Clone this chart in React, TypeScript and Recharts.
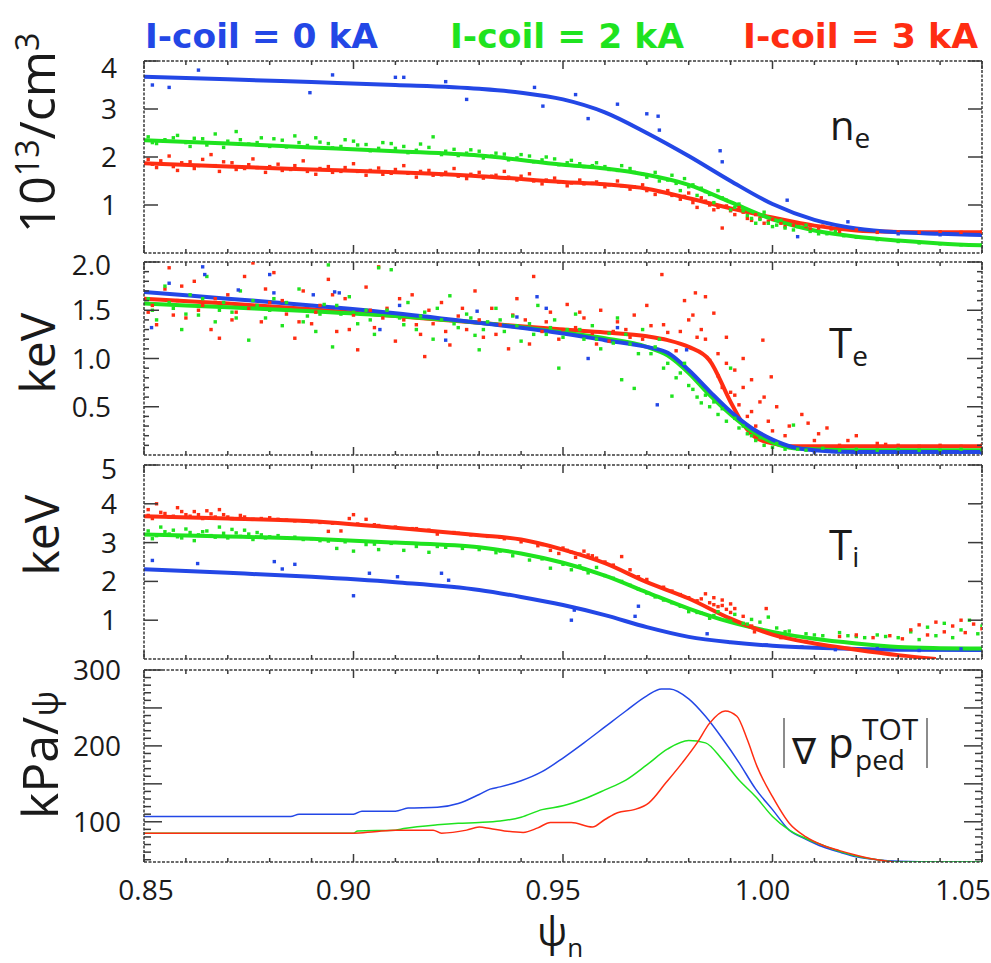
import React from 'react';
import { ComposedChart, Line, Scatter, XAxis, YAxis } from 'recharts';

const BLUE = '#2347e6';
const GREEN = '#1fe31f';
const RED = '#ff2d12';
const FRAME = '#3a3a3a';
const TXT = '#1a1a1a';
const SANS = '"Open Sans", "DejaVu Sans", sans-serif';

// x axis (psi_n)
const xTicks = [0.85, 0.86, 0.87, 0.88, 0.89, 0.9, 0.91, 0.92, 0.93, 0.94, 0.95, 0.96, 0.97, 0.98, 0.99, 1.0, 1.01, 1.02, 1.03, 1.04, 1.05];
const xLabelTicks = [0.85, 0.9, 0.95, 1.0, 1.05];

// y ticks per panel
const neTicks = [1, 2, 3, 4];
const teTicks = [0.1, 0.2, 0.3, 0.4, 0.5, 0.6, 0.7, 0.8, 0.9, 1.0, 1.1, 1.2, 1.3, 1.4, 1.5, 1.6, 1.7, 1.8, 1.9, 2.0];
const teMajor = [0.5, 1.0, 1.5, 2.0];
const tiTicks = [1, 2, 3, 4, 5];
const gradTicks = [50, 60, 70, 80, 90, 100, 110, 120, 130, 140, 150, 160, 170, 180, 190, 200, 210, 220, 230, 240, 250, 260, 270, 280, 290, 300];
const gradMajor = [100, 150, 200, 250, 300];
const gradLabels = [100, 200, 300];

// ---- n_e fits [psi, 1e13/cm3]
const neBlueFit = [[0.85, 3.67], [0.87, 3.62], [0.89, 3.56], [0.91, 3.5], [0.93, 3.42], [0.94, 3.34], [0.95, 3.2], [0.96, 2.93], [0.97, 2.5], [0.98, 2.02], [0.99, 1.5], [1.0, 1.02], [1.01, 0.69], [1.02, 0.51], [1.03, 0.43], [1.04, 0.4], [1.05, 0.375]];
const neGreenFit = [[0.85, 2.35], [0.87, 2.28], [0.89, 2.2], [0.91, 2.12], [0.93, 2.03], [0.95, 1.84], [0.96, 1.76], [0.97, 1.63], [0.98, 1.42], [0.99, 1.06], [1.0, 0.7], [1.01, 0.47], [1.02, 0.34], [1.03, 0.26], [1.04, 0.2], [1.05, 0.16]];
const neRedFit = [[0.85, 1.87], [0.87, 1.8], [0.89, 1.74], [0.91, 1.68], [0.93, 1.6], [0.95, 1.48], [0.96, 1.43], [0.97, 1.34], [0.98, 1.14], [0.99, 0.93], [1.0, 0.74], [1.01, 0.57], [1.02, 0.47], [1.03, 0.44], [1.04, 0.43], [1.05, 0.43]];

const neBluePts = [[0.852, 3.5], [0.856, 3.45], [0.863, 3.81], [0.8896, 3.34], [0.895, 3.71], [0.91, 3.66], [0.912, 3.66], [0.922, 3.57], [0.927, 3.2], [0.9432, 3.45], [0.9452, 3.06], [0.953, 3.3], [0.956, 2.8], [0.963, 3.1], [0.97, 2.9], [0.9727, 2.85], [0.973, 2.56], [0.9875, 2.13], [0.988, 1.9], [1.0035, 1.1], [1.006, 0.34], [1.018, 0.65], [1.03, 0.4], [1.04, 0.38]];
const neGreenPts = [[0.851, 2.42], [0.853, 2.28], [0.855, 2.36], [0.858, 2.45], [0.86, 2.3], [0.862, 2.39], [0.865, 2.25], [0.867, 2.48], [0.87, 2.33], [0.872, 2.53], [0.875, 2.27], [0.878, 2.4], [0.88, 2.22], [0.883, 2.35], [0.886, 2.44], [0.889, 2.24], [0.892, 2.31], [0.895, 2.19], [0.898, 2.36], [0.901, 2.25], [0.904, 2.13], [0.907, 2.3], [0.91, 2.18], [0.913, 2.09], [0.916, 2.27], [0.919, 2.42], [0.922, 2.12], [0.925, 2.03], [0.928, 2.15], [0.931, 1.98], [0.934, 2.08], [0.937, 1.94], [0.94, 2.05], [0.943, 1.9], [0.946, 2.0], [0.949, 1.84], [0.952, 1.93], [0.955, 1.8], [0.958, 1.88], [0.961, 1.74], [0.964, 1.82], [0.967, 1.68], [0.97, 1.58], [0.973, 1.5], [0.976, 1.62], [0.978, 1.3], [0.98, 1.38], [0.982, 1.2], [0.984, 1.28], [0.986, 1.05], [0.988, 1.15], [0.99, 0.9], [0.992, 1.02], [0.994, 0.78], [0.996, 0.62], [0.998, 0.85], [1.0, 0.55], [1.002, 0.68], [1.005, 0.48], [1.008, 0.58], [1.011, 0.4], [1.015, 0.45], [1.02, 0.33], [1.025, 0.28], [1.03, 0.24], [1.035, 0.21], [1.04, 0.19], [1.045, 0.17], [1.05, 0.16],
  [0.852, 2.3], [0.857, 2.4], [0.861, 2.22], [0.864, 2.38], [0.869, 2.2], [0.873, 2.36], [0.877, 2.3], [0.881, 2.38], [0.884, 2.21], [0.887, 2.3], [0.891, 2.4], [0.894, 2.28], [0.897, 2.22], [0.9, 2.33], [0.903, 2.26], [0.906, 2.18], [0.909, 2.28], [0.912, 2.22], [0.915, 2.14], [0.918, 2.2], [0.921, 2.05], [0.924, 2.16], [0.927, 2.08], [0.93, 2.12], [0.933, 2.02], [0.936, 2.06], [0.939, 1.98], [0.942, 2.02], [0.945, 1.94], [0.948, 1.96], [0.951, 1.88], [0.954, 1.86], [0.957, 1.82], [0.96, 1.8], [0.963, 1.72], [0.966, 1.76], [0.969, 1.64], [0.972, 1.68], [0.975, 1.52], [0.977, 1.45], [0.979, 1.55], [0.981, 1.42], [0.983, 1.35], [0.985, 1.22], [0.987, 1.3], [0.989, 1.1], [0.991, 0.95], [0.993, 0.88], [0.995, 0.72], [0.997, 0.7], [0.999, 0.62], [1.001, 0.58], [1.003, 0.52], [1.006, 0.55], [1.009, 0.45], [1.013, 0.4], [1.017, 0.36]];
const neRedPts = [[0.851, 1.95], [0.853, 1.78], [0.856, 2.02], [0.858, 1.72], [0.861, 1.9], [0.863, 1.82], [0.866, 2.05], [0.868, 1.7], [0.871, 1.88], [0.874, 1.76], [0.876, 1.96], [0.879, 1.68], [0.882, 1.85], [0.885, 1.74], [0.888, 1.92], [0.891, 1.64], [0.894, 1.8], [0.897, 1.7], [0.9, 1.86], [0.903, 1.62], [0.906, 1.77], [0.909, 1.66], [0.912, 1.82], [0.915, 1.58], [0.918, 1.72], [0.921, 1.63], [0.924, 1.76], [0.927, 1.55], [0.93, 1.68], [0.933, 1.6], [0.936, 1.7], [0.939, 1.52], [0.942, 1.65], [0.945, 1.44], [0.948, 1.56], [0.951, 1.4], [0.954, 1.52], [0.957, 1.45], [0.96, 1.38], [0.963, 1.5], [0.966, 1.33], [0.969, 1.42], [0.972, 1.22], [0.975, 1.3], [0.978, 1.12], [0.98, 1.25], [0.982, 0.95], [0.984, 1.08], [0.986, 0.9], [0.988, 0.52], [0.99, 0.88], [0.992, 0.95], [0.994, 0.72], [0.996, 0.8], [0.998, 0.62], [1.0, 0.7], [1.003, 0.55], [1.006, 0.62], [1.009, 0.5], [1.012, 0.56], [1.016, 0.45], [1.02, 0.48], [1.025, 0.43], [1.03, 0.44], [1.035, 0.43], [1.04, 0.44], [1.045, 0.43], [1.05, 0.44],
  [0.852, 1.85], [0.854, 1.92], [0.857, 1.8], [0.859, 1.88], [0.862, 1.76], [0.864, 1.95], [0.867, 1.82], [0.869, 1.9], [0.872, 1.74], [0.875, 1.84], [0.877, 1.78], [0.88, 1.8], [0.883, 1.72], [0.886, 1.82], [0.889, 1.7], [0.892, 1.76], [0.895, 1.68], [0.898, 1.78], [0.901, 1.7], [0.904, 1.72], [0.907, 1.64], [0.91, 1.74], [0.913, 1.66], [0.916, 1.7], [0.919, 1.62], [0.922, 1.68], [0.925, 1.6], [0.928, 1.64], [0.931, 1.56], [0.934, 1.62], [0.937, 1.58], [0.94, 1.6], [0.943, 1.5], [0.946, 1.52], [0.949, 1.48], [0.952, 1.46], [0.955, 1.44], [0.958, 1.48], [0.961, 1.42], [0.964, 1.4], [0.967, 1.38], [0.97, 1.3], [0.973, 1.28], [0.976, 1.2], [0.979, 1.18], [0.981, 1.05], [0.983, 1.15], [0.985, 1.0], [0.987, 0.95], [0.989, 0.98], [0.991, 0.8], [0.993, 0.85], [0.995, 0.68], [0.997, 0.72], [0.999, 0.66], [1.002, 0.62], [1.005, 0.58], [1.008, 0.55], [1.011, 0.52], [1.014, 0.5]];

// ---- T_e fits [psi, keV]
const teBlueFit = [[0.85, 1.69], [0.87, 1.62], [0.89, 1.55], [0.91, 1.47], [0.93, 1.37], [0.95, 1.26], [0.96, 1.19], [0.97, 1.12], [0.975, 1.06], [0.98, 0.88], [0.985, 0.66], [0.99, 0.45], [0.995, 0.28], [1.0, 0.16], [1.005, 0.08], [1.01, 0.05], [1.02, 0.03], [1.05, 0.03]];
const teGreenFit = [[0.85, 1.57], [0.87, 1.53], [0.89, 1.49], [0.91, 1.44], [0.93, 1.37], [0.95, 1.27], [0.96, 1.21], [0.97, 1.12], [0.975, 1.03], [0.98, 0.85], [0.985, 0.62], [0.99, 0.42], [0.995, 0.25], [1.0, 0.13], [1.005, 0.07], [1.01, 0.06], [1.02, 0.05], [1.05, 0.05]];
const teRedFit = [[0.85, 1.62], [0.87, 1.57], [0.89, 1.51], [0.91, 1.44], [0.93, 1.37], [0.95, 1.3], [0.96, 1.27], [0.97, 1.23], [0.975, 1.19], [0.98, 1.12], [0.985, 0.98], [0.99, 0.55], [0.993, 0.32], [0.996, 0.18], [1.0, 0.12], [1.005, 0.09], [1.02, 0.09], [1.05, 0.09]];

const teBluePts = [[0.8518, 1.32], [0.856, 1.78], [0.864, 1.95], [0.8645, 1.87], [0.8725, 1.71], [0.88, 1.87], [0.881, 1.68], [0.8904, 1.66], [0.8955, 1.69], [0.8966, 1.68], [0.9063, 1.3], [0.911, 1.55], [0.922, 1.19], [0.9295, 1.49], [0.939, 1.43], [0.9438, 1.64], [0.946, 1.52], [0.956, 1.0], [0.963, 1.32], [0.9725, 0.52], [0.9795, 1.09], [1.01, 0.03], [1.02, 0.02], [1.03, 0.03], [1.04, 0.02], [1.05, 0.02]];
const teGreenPts = [[0.851, 1.62], [0.853, 1.4], [0.855, 1.75], [0.857, 1.52], [0.859, 1.3], [0.861, 1.66], [0.863, 1.45], [0.865, 1.85], [0.867, 1.38], [0.869, 1.58], [0.871, 1.48], [0.873, 1.7], [0.875, 1.19], [0.877, 1.55], [0.879, 1.42], [0.881, 1.62], [0.883, 1.34], [0.885, 1.5], [0.887, 1.72], [0.889, 1.44], [0.891, 1.28], [0.893, 1.56], [0.894, 1.97], [0.895, 1.12], [0.897, 1.46], [0.899, 1.64], [0.901, 1.36], [0.903, 1.5], [0.905, 1.25], [0.906, 1.94], [0.909, 1.92], [0.911, 1.42], [0.913, 1.58], [0.915, 1.3], [0.917, 1.48], [0.919, 1.2], [0.921, 1.4], [0.923, 1.65], [0.925, 1.32], [0.927, 1.46], [0.929, 1.24], [0.93, 1.09], [0.932, 1.38], [0.934, 1.52], [0.936, 1.28], [0.938, 1.44], [0.94, 1.18], [0.942, 1.36], [0.944, 1.55], [0.946, 1.25], [0.948, 1.4], [0.949, 0.9], [0.951, 1.3], [0.953, 1.46], [0.955, 1.2], [0.957, 1.34], [0.959, 1.1], [0.961, 1.26], [0.963, 1.42], [0.964, 0.78], [0.966, 1.15], [0.967, 0.69], [0.969, 1.3], [0.971, 1.05], [0.973, 1.2], [0.975, 0.95], [0.976, 0.61], [0.978, 0.85], [0.98, 0.72], [0.982, 0.6], [0.983, 0.54], [0.985, 0.5], [0.987, 0.42], [0.989, 0.35], [0.99, 0.9], [0.992, 0.28], [0.994, 0.22], [0.996, 0.15], [0.998, 0.1], [1.001, 0.12], [1.003, 0.06], [1.005, 0.31], [1.008, 0.05], [1.012, 0.07], [1.016, 0.05], [1.02, 0.06], [1.025, 0.05], [1.03, 0.06], [1.035, 0.05], [1.04, 0.05], [1.045, 0.06], [1.05, 0.05],
  [0.852, 1.5], [0.856, 1.58], [0.86, 1.46], [0.864, 1.62], [0.868, 1.5], [0.872, 1.42], [0.876, 1.6], [0.88, 1.5], [0.884, 1.58], [0.888, 1.38], [0.892, 1.46], [0.896, 1.55], [0.9, 1.48], [0.904, 1.4], [0.908, 1.5], [0.912, 1.35], [0.916, 1.44], [0.92, 1.52], [0.924, 1.36], [0.928, 1.42], [0.931, 1.3], [0.935, 1.4], [0.939, 1.34], [0.943, 1.25], [0.947, 1.32], [0.95, 1.22], [0.954, 1.3], [0.958, 1.2], [0.962, 1.16], [0.965, 1.25], [0.968, 1.05], [0.972, 1.12], [0.974, 0.9], [0.977, 0.8], [0.979, 0.95], [0.981, 0.68], [0.984, 0.62], [0.986, 0.55], [0.988, 0.48], [0.991, 0.38], [0.993, 0.3], [0.995, 0.2], [0.997, 0.18], [1.0, 0.08], [1.006, 0.06]];
const teRedPts = [[0.851, 1.48], [0.853, 1.35], [0.855, 1.72], [0.856, 1.94], [0.858, 1.6], [0.86, 1.42], [0.862, 1.8], [0.864, 1.55], [0.866, 1.3], [0.868, 1.21], [0.87, 1.66], [0.872, 1.48], [0.874, 1.85], [0.876, 1.99], [0.878, 1.38], [0.88, 1.58], [0.881, 1.89], [0.884, 1.46], [0.886, 1.21], [0.888, 1.7], [0.89, 1.36], [0.892, 1.55], [0.894, 1.82], [0.896, 1.28], [0.898, 1.62], [0.9, 1.45], [0.901, 1.09], [0.903, 1.74], [0.905, 1.32], [0.906, 1.95], [0.908, 1.52], [0.91, 1.18], [0.912, 1.4], [0.914, 1.66], [0.916, 1.25], [0.917, 1.02], [0.919, 1.36], [0.921, 1.58], [0.923, 1.14], [0.925, 1.44], [0.927, 1.3], [0.929, 1.7], [0.931, 1.22], [0.933, 1.52], [0.935, 1.35], [0.937, 1.1], [0.939, 1.62], [0.941, 1.4], [0.943, 1.85], [0.945, 1.28], [0.947, 1.48], [0.949, 1.2], [0.951, 1.56], [0.953, 1.32], [0.955, 1.42], [0.957, 1.26], [0.959, 1.5], [0.961, 1.18], [0.963, 1.38], [0.965, 1.3], [0.967, 1.45], [0.969, 1.2], [0.971, 1.34], [0.9736, 1.87], [0.975, 1.27], [0.977, 1.08], [0.979, 1.6], [0.98, 1.4], [0.9816, 1.68], [0.982, 1.22], [0.983, 1.3], [0.984, 1.64], [0.985, 0.98], [0.986, 1.47], [0.987, 0.82], [0.988, 0.7], [0.989, 1.22], [0.99, 0.65], [0.991, 0.88], [0.992, 0.52], [0.993, 1.0], [0.994, 0.4], [0.995, 0.78], [0.996, 0.3], [0.997, 0.55], [0.9977, 1.19], [0.998, 0.6], [0.9997, 0.81], [1.0, 0.25], [1.001, 0.5], [1.003, 0.2], [1.007, 0.42], [1.0085, 0.33], [1.01, 0.15], [1.013, 0.28], [1.016, 0.1], [1.02, 0.2], [1.025, 0.12], [1.03, 0.1], [1.035, 0.09], [1.04, 0.1], [1.045, 0.09], [1.05, 0.1],
  [0.852, 1.55], [0.857, 1.45], [0.859, 1.75], [0.863, 1.5], [0.867, 1.62], [0.871, 1.4], [0.875, 1.52], [0.879, 1.72], [0.883, 1.6], [0.887, 1.38], [0.891, 1.48], [0.895, 1.66], [0.899, 1.3], [0.904, 1.5], [0.907, 1.42], [0.911, 1.62], [0.915, 1.35], [0.918, 1.5], [0.922, 1.28], [0.926, 1.52], [0.93, 1.4], [0.934, 1.25], [0.938, 1.45], [0.942, 1.15], [0.946, 1.38], [0.95, 1.3], [0.954, 1.48], [0.958, 1.15], [0.962, 1.28], [0.966, 1.22], [0.97, 1.55], [0.974, 1.35], [0.978, 1.28], [0.981, 1.45], [0.984, 1.2], [0.987, 1.05], [0.989, 0.95], [0.991, 0.62], [0.993, 0.7], [0.995, 0.45], [0.999, 0.35], [1.004, 0.3], [1.011, 0.22], [1.018, 0.15], [1.027, 0.11]];

// ---- T_i fits [psi, keV]
const tiBlueFit = [[0.85, 2.31], [0.87, 2.22], [0.89, 2.12], [0.91, 1.98], [0.93, 1.78], [0.94, 1.6], [0.95, 1.39], [0.96, 1.13], [0.97, 0.82], [0.98, 0.57], [0.99, 0.43], [1.0, 0.34], [1.01, 0.29], [1.02, 0.26], [1.03, 0.24], [1.05, 0.23]];
const tiGreenFit = [[0.85, 3.21], [0.87, 3.16], [0.89, 3.1], [0.91, 3.0], [0.93, 2.88], [0.94, 2.72], [0.95, 2.48], [0.96, 2.15], [0.97, 1.72], [0.98, 1.3], [0.99, 0.95], [1.0, 0.7], [1.01, 0.52], [1.02, 0.4], [1.03, 0.31], [1.04, 0.28], [1.05, 0.27]];
const tiRedFit = [[0.85, 3.68], [0.87, 3.62], [0.89, 3.55], [0.91, 3.38], [0.93, 3.19], [0.94, 3.08], [0.95, 2.82], [0.96, 2.47], [0.97, 1.98], [0.98, 1.56], [0.99, 1.04], [1.0, 0.63], [1.01, 0.4], [1.02, 0.24], [1.03, 0.1], [1.039, 0.0]];

const tiBluePts = [[0.8497, 2.2], [0.852, 2.54], [0.8628, 2.46], [0.8811, 2.51], [0.883, 2.32], [0.886, 2.44], [0.9, 1.63], [0.9038, 2.21], [0.9105, 2.12], [0.921, 2.21], [0.9227, 2.03], [0.952, 1.0], [0.9527, 1.26], [0.9672, 1.1], [0.968, 1.36], [0.9844, 0.65], [0.9985, 0.36], [1.007, 0.31], [1.015, 0.24], [1.025, 0.27], [1.035, 0.22], [1.045, 0.26]];
const tiGreenPts = [[0.851, 3.3], [0.852, 3.1], [0.854, 3.4], [0.856, 3.22], [0.858, 3.15], [0.86, 3.35], [0.862, 3.05], [0.864, 3.28], [0.866, 3.18], [0.868, 3.4], [0.87, 3.12], [0.872, 3.25], [0.874, 3.32], [0.876, 3.08], [0.878, 3.2], [0.88, 3.15], [0.884, 3.12], [0.888, 3.08], [0.892, 3.05], [0.896, 2.85], [0.898, 3.02], [0.9, 2.78], [0.903, 2.95], [0.906, 2.82], [0.909, 2.98], [0.912, 2.8], [0.915, 2.9], [0.918, 2.75], [0.922, 2.88], [0.926, 2.85], [0.93, 2.82], [0.934, 2.74], [0.938, 2.66], [0.942, 2.55], [0.947, 2.34], [0.95, 2.44], [0.952, 2.3], [0.954, 2.4], [0.956, 2.22], [0.958, 2.36], [0.96, 2.15], [0.964, 2.0], [0.968, 1.8], [0.972, 1.6], [0.976, 1.45], [0.98, 1.22], [0.983, 1.18], [0.985, 1.05], [0.987, 1.22], [0.989, 1.0], [0.991, 1.15], [0.993, 0.92], [0.995, 1.02], [0.997, 0.95], [0.999, 1.08], [1.001, 0.8], [1.004, 0.72], [1.008, 0.65], [1.012, 0.6], [1.016, 0.68], [1.02, 0.58], [1.025, 0.62], [1.03, 0.55], [1.033, 0.7], [1.035, 0.5], [1.037, 0.82], [1.039, 0.6], [1.041, 0.92], [1.043, 0.55], [1.045, 0.75], [1.047, 1.0], [1.049, 0.65], [1.05, 0.85],
  [0.853, 3.18], [0.855, 3.28], [0.857, 3.32], [0.859, 3.12], [0.861, 3.26], [0.863, 3.2], [0.865, 3.3], [0.867, 3.14], [0.869, 3.24], [0.871, 3.34], [0.873, 3.16], [0.875, 3.22], [0.877, 3.26], [0.879, 3.12], [0.882, 3.18], [0.886, 3.14], [0.89, 3.1], [0.894, 3.04], [0.905, 2.96], [0.92, 2.9], [0.935, 2.78], [0.945, 2.58], [0.955, 2.32], [0.962, 2.08], [0.966, 1.9], [0.97, 1.7], [0.974, 1.52], [0.978, 1.36], [0.982, 1.2], [0.986, 1.12], [0.99, 0.98], [0.994, 0.9], [1.003, 0.7], [1.01, 0.62], [1.018, 0.6], [1.022, 0.55], [1.027, 0.58]];
const tiRedPts = [[0.851, 3.85], [0.852, 3.62], [0.853, 4.0], [0.855, 3.75], [0.857, 3.68], [0.858, 3.9], [0.86, 3.72], [0.862, 3.8], [0.864, 3.62], [0.866, 3.74], [0.868, 3.85], [0.87, 3.66], [0.873, 3.7], [0.876, 3.6], [0.88, 3.64], [0.884, 3.58], [0.888, 3.56], [0.892, 3.52], [0.894, 3.29], [0.897, 3.3], [0.899, 3.62], [0.9, 3.72], [0.901, 3.48], [0.903, 3.6], [0.906, 3.44], [0.91, 3.4], [0.914, 3.36], [0.918, 3.32], [0.92, 3.22], [0.924, 3.26], [0.928, 3.2], [0.932, 3.16], [0.936, 3.1], [0.94, 3.02], [0.944, 2.92], [0.947, 2.8], [0.949, 2.72], [0.95, 2.86], [0.952, 2.75], [0.953, 2.62], [0.955, 2.78], [0.956, 2.68], [0.958, 2.6], [0.96, 2.5], [0.964, 2.64], [0.966, 2.3], [0.97, 2.05], [0.974, 1.85], [0.978, 1.66], [0.982, 1.5], [0.984, 1.68], [0.985, 1.45], [0.986, 1.58], [0.987, 1.35], [0.988, 1.52], [0.989, 1.28], [0.99, 1.42], [0.991, 1.3], [0.993, 1.1], [0.9957, 0.7], [0.9985, 1.3], [1.002, 0.55], [1.008, 0.45], [1.016, 0.58], [1.02, 0.62], [1.024, 0.55], [1.028, 0.6], [1.031, 0.52], [1.033, 0.75], [1.035, 0.88], [1.037, 0.62], [1.039, 0.95], [1.041, 0.7], [1.043, 0.85], [1.045, 1.0], [1.046, 0.68], [1.048, 0.9], [1.05, 0.78],
  [0.851, 3.7], [0.854, 3.78], [0.856, 3.66], [0.859, 3.8], [0.861, 3.68], [0.863, 3.72], [0.865, 3.82], [0.867, 3.66], [0.869, 3.72], [0.871, 3.62], [0.874, 3.66], [0.878, 3.62], [0.882, 3.6], [0.886, 3.56], [0.89, 3.54], [0.895, 3.5], [0.905, 3.46], [0.915, 3.36], [0.925, 3.24], [0.935, 3.14], [0.945, 2.95], [0.951, 2.8], [0.954, 2.7], [0.957, 2.66], [0.962, 2.42], [0.968, 2.12], [0.976, 1.75], [0.98, 1.58], [0.983, 1.55], [0.986, 1.4], [0.988, 1.38], [0.99, 1.2], [0.995, 0.85]];

// ---- |grad p_ped| [psi, kPa/psi]
const gradBlue = [[0.85, 107], [0.87, 107], [0.885, 107], [0.887, 110], [0.9, 110], [0.902, 114], [0.91, 114], [0.913, 118], [0.92, 119], [0.925, 124], [0.93, 136], [0.9326, 143], [0.935, 146], [0.94, 154], [0.945, 166], [0.95, 184], [0.955, 204], [0.96, 225], [0.965, 246], [0.97, 266], [0.9735, 275], [0.9755, 275], [0.98, 262], [0.984, 239], [0.988, 210], [0.992, 178], [0.996, 143], [1.0, 116], [1.004, 89], [1.008, 77], [1.012, 67], [1.016, 60], [1.02, 54], [1.025, 50], [1.03, 48], [1.04, 47], [1.05, 47]];
const gradGreen = [[0.85, 85], [0.9, 85], [0.901, 88], [0.91, 89], [0.912, 91], [0.92, 96], [0.925, 98], [0.93, 99], [0.935, 101], [0.94, 106], [0.945, 116], [0.95, 121], [0.955, 130], [0.96, 142], [0.965, 155], [0.97, 175], [0.975, 196], [0.98, 207], [0.984, 204], [0.988, 182], [0.992, 155], [0.996, 133], [1.0, 107], [1.004, 89], [1.008, 78], [1.012, 69], [1.016, 61], [1.02, 55], [1.025, 50], [1.03, 47], [1.05, 47]];
const gradRed = [[0.85, 85], [0.9, 85], [0.905, 87], [0.91, 89], [0.919, 89], [0.921, 85], [0.927, 89], [0.93, 93], [0.9326, 91], [0.936, 88], [0.9405, 86], [0.944, 92], [0.947, 99], [0.952, 99], [0.957, 93], [0.96, 103], [0.963, 112], [0.967, 116], [0.9705, 125], [0.9745, 151], [0.9785, 178], [0.982, 204], [0.985, 230], [0.9887, 246], [0.9915, 239], [0.994, 208], [0.9963, 173], [1.0, 133], [1.004, 98], [1.008, 80], [1.012, 69], [1.016, 62], [1.02, 56], [1.025, 50], [1.029, 47]];

const toPts = (a: number[][]) => a.map(([x, y]) => ({ x, y }));
const has = (arr: number[], v: number) => arr.some((t) => Math.abs(t - v) < 1e-6);
const frameLine = { stroke: FRAME, strokeWidth: 1.5, strokeDasharray: '3 1.5' };
const PAD = 20; // room above each plot for the top tick label

// label nudges: first label sits right of its tick, last one is pulled in from the edge
const xLabelDx = (v: number) => (Math.abs(v - 0.85) < 1e-6 ? 2 : Math.abs(v - 1.05) < 1e-6 ? -19 : -10);

const makeXTick = (side: 'top' | 'bottom', labels: boolean) => (props: any) => {
  const { x, y, payload } = props;
  const v = payload.value;
  const major = has(xLabelTicks, v);
  const len = major ? 8 : 4;
  const d = side === 'bottom' ? -1 : 1;
  return (
    <g>
      <line x1={x} x2={x} y1={y} y2={y + d * len} stroke={FRAME} strokeWidth={1.5} />
      {labels && major && (
        <text x={x + xLabelDx(v)} y={y + 38} textAnchor="middle" fontFamily={SANS} fontSize={28} fill={TXT}>
          {v.toFixed(2)}
        </text>
      )}
    </g>
  );
};

interface YCfg {
  major: number[];
  labels: number[];
  decimals: number;
  gap: number;
  topShift: number;
  top: number;
  majorLen: number;
  minorLen: number;
}

const makeYTick = (side: 'left' | 'right', c: YCfg) => (props: any) => {
  const { x, y, payload } = props;
  const v = payload.value;
  const len = has(c.major, v) ? c.majorLen : c.minorLen;
  const d = side === 'left' ? 1 : -1;
  const ly = Math.abs(v - c.top) < 1e-6 ? y + c.topShift : y;
  return (
    <g>
      <line x1={x} x2={x + d * len} y1={y} y2={y} stroke={FRAME} strokeWidth={1.5} />
      {side === 'left' && has(c.labels, v) && (
        <text x={x - c.gap} y={ly + 10} textAnchor="end" fontFamily={SANS} fontSize={28} fill={TXT}>
          {v.toFixed(c.decimals)}
        </text>
      )}
    </g>
  );
};

interface Series {
  data: number[][];
  color: string;
}

interface PanelProps {
  plotTop: number;
  plotH: number;
  domain: [number, number];
  yTicks: number[];
  ycfg: YCfg;
  scatters: Series[];
  lines: Series[];
  lineWidth: number;
  bottom?: boolean;
}

const dotShape = (color: string) => (p: any) => (
  <rect x={p.cx - 1.7} y={p.cy - 1.7} width={3.4} height={3.4} fill={color} />
);

const Panel = (p: PanelProps) => {
  const bottomH = p.bottom ? 60 : 5;
  return (
    <div style={{ position: 'absolute', left: 0, top: p.plotTop - 5 - PAD }}>
      <ComposedChart width={991} height={p.plotH + 5 + bottomH + PAD} margin={{ top: PAD, right: 4, bottom: 0, left: 104 }}>
        <XAxis xAxisId="b" orientation="bottom" type="number" dataKey="x" domain={[0.85, 1.05]} ticks={xTicks} interval={0}
          height={bottomH} tickSize={0} tickMargin={0} tickLine={false} axisLine={frameLine} allowDataOverflow
          tick={makeXTick('bottom', !!p.bottom)} />
        <XAxis xAxisId="t" orientation="top" type="number" dataKey="x" domain={[0.85, 1.05]} ticks={xTicks} interval={0}
          height={5} tickSize={0} tickMargin={0} tickLine={false} axisLine={frameLine} allowDataOverflow
          tick={makeXTick('top', false)} />
        <YAxis yAxisId="l" orientation="left" type="number" dataKey="y" domain={p.domain} ticks={p.yTicks} interval={0}
          width={40} tickSize={0} tickMargin={0} tickLine={false} axisLine={frameLine} allowDataOverflow
          tick={makeYTick('left', p.ycfg)} />
        <YAxis yAxisId="r" orientation="right" type="number" dataKey="y" domain={p.domain} ticks={p.yTicks} interval={0}
          width={5} tickSize={0} tickMargin={0} tickLine={false} axisLine={frameLine} allowDataOverflow
          tick={makeYTick('right', p.ycfg)} />
        {p.scatters.map((s, i) => (
          <Scatter key={'s' + i} data={toPts(s.data)} dataKey="y" xAxisId="t" yAxisId="r" fill={s.color}
            shape={dotShape(s.color)} isAnimationActive={false} />
        ))}
        {p.lines.map((s, i) => (
          <Line key={'l' + i} data={toPts(s.data)} dataKey="y" xAxisId={i % 2 ? 't' : 'b'} yAxisId={i % 2 ? 'r' : 'l'}
            type="monotone" stroke={s.color} strokeWidth={p.lineWidth} dot={false} activeDot={false}
            isAnimationActive={false} />
        ))}
      </ComposedChart>
    </div>
  );
};

export default function App() {
  return (
    <div style={{ position: 'absolute', left: 0, top: 0, width: 991, height: 963, background: '#fff', overflow: 'hidden' }}>
      <Panel plotTop={61} plotH={192} domain={[0, 4]} yTicks={neTicks}
        ycfg={{ major: neTicks, labels: neTicks, decimals: 0, gap: 27, topShift: 7, top: 4, majorLen: 14, minorLen: 14 }}
        scatters={[{ data: neRedPts, color: RED }, { data: neGreenPts, color: GREEN }, { data: neBluePts, color: BLUE }]}
        lines={[{ data: neRedFit, color: RED }, { data: neGreenFit, color: GREEN }, { data: neBlueFit, color: BLUE }]}
        lineWidth={4} />
      <Panel plotTop={262} plotH={193} domain={[0, 2]} yTicks={teTicks}
        ycfg={{ major: teMajor, labels: teMajor, decimals: 1, gap: 33, topShift: 3, top: 2, majorLen: 15, minorLen: 5 }}
        scatters={[{ data: teRedPts, color: RED }, { data: teGreenPts, color: GREEN }, { data: teBluePts, color: BLUE }]}
        lines={[{ data: teRedFit, color: RED }, { data: teGreenFit, color: GREEN }, { data: teBlueFit, color: BLUE }]}
        lineWidth={4} />
      <Panel plotTop={465} plotH={194} domain={[0, 5]} yTicks={tiTicks}
        ycfg={{ major: tiTicks, labels: tiTicks, decimals: 0, gap: 27, topShift: 4, top: 5, majorLen: 14, minorLen: 14 }}
        scatters={[{ data: tiBluePts, color: BLUE }, { data: tiGreenPts, color: GREEN }, { data: tiRedPts, color: RED }]}
        lines={[{ data: tiBlueFit, color: BLUE }, { data: tiGreenFit, color: GREEN }, { data: tiRedFit, color: RED }]}
        lineWidth={4} />
      <Panel plotTop={670} plotH={192} domain={[47, 300]} yTicks={gradTicks} bottom
        ycfg={{ major: gradMajor, labels: gradLabels, decimals: 0, gap: 23, topShift: 0, top: 300, majorLen: 18, minorLen: 7 }}
        scatters={[]}
        lines={[{ data: gradBlue, color: BLUE }, { data: gradGreen, color: GREEN }, { data: gradRed, color: RED }]}
        lineWidth={1.5} />

      <svg width={991} height={963} style={{ position: 'absolute', left: 0, top: 0, pointerEvents: 'none' }}>
        <g fontFamily='"DejaVu Sans", sans-serif' fontWeight="bold" fontSize={34}>
          <text x={145} y={48} fill={BLUE} textLength={233} lengthAdjust="spacingAndGlyphs">I-coil = 0 kA</text>
          <text x={450} y={48} fill={GREEN} textLength={234} lengthAdjust="spacingAndGlyphs">I-coil = 2 kA</text>
          <text x={743} y={48} fill={RED} textLength={235} lengthAdjust="spacingAndGlyphs">I-coil = 3 kA</text>
        </g>
        <g fontFamily={SANS} fill={TXT}>
          <text transform="translate(55,133) rotate(-90)" textAnchor="middle" fontSize={50}>
            10<tspan dy={-16} fontSize={32}>13</tspan><tspan dy={16}>/cm</tspan><tspan dy={-16} fontSize={32}>3</tspan>
          </text>
          <text transform="translate(55,353) rotate(-90)" textAnchor="middle" fontSize={48}>keV</text>
          <text transform="translate(59,535) rotate(-90)" textAnchor="middle" fontSize={48}>keV</text>
          <text transform="translate(58,755) rotate(-90)" textAnchor="middle" fontSize={50}>
            kPa/<tspan fontSize={34}>ψ</tspan>
          </text>

          <text x={830} y={140} fontSize={40}>n<tspan fontSize={28} dy={8}>e</tspan></text>
          <text x={829} y={358} fontSize={42}>T<tspan fontSize={28} dy={8}>e</tspan></text>
          <text x={829} y={560} fontSize={42}>T<tspan fontSize={28} dy={7}>i</tspan></text>

          <line x1={784} x2={784} y1={718} y2={768} stroke="#666" strokeWidth={1.5} />
          <text x={792} y={764} fontSize={36} fontFamily='"DejaVu Sans", sans-serif'>∇</text>
          <text x={828} y={758} fontSize={42}>p</text>
          <text x={855} y={770} fontSize={28}>ped</text>
          <text x={862} y={740} fontSize={30}>TOT</text>
          <line x1={927} x2={927} y1={718} y2={768} stroke="#666" strokeWidth={1.5} />

          <text x={537} y={946} fontSize={40}>ψ<tspan fontSize={26} dy={11}>n</tspan></text>
        </g>
      </svg>
    </div>
  );
}
